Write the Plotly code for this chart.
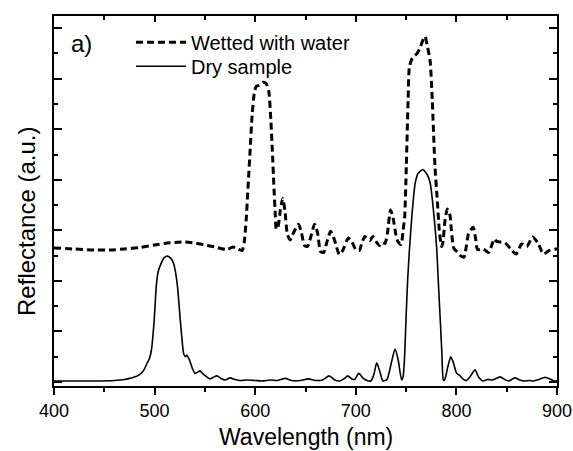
import plotly.graph_objects as go

# Dry sample (solid line)
dry_x = [400, 420, 440, 460, 470, 477, 483, 487, 490, 492.5, 495, 497, 498.5, 499.6, 500.6, 501.6,
         503.5, 506.6, 509.5, 512.9, 516, 518.8, 521, 522.8, 524.2, 525.5, 527, 528.8, 530.5, 532,
         533.5, 535.3, 537.5, 540.2, 542.5, 545.3, 548, 551.9, 555, 558, 562, 566, 570, 575, 580,
         585, 592, 600, 607, 615, 622, 630, 636, 645, 653, 660, 667, 673.5, 679, 684, 688, 692, 696,
         699, 703, 707, 711, 715, 718, 720.8, 724, 727, 731, 735, 739, 742, 745.5, 747, 748.5, 750,
         751.5, 753.3, 755.7, 759, 762, 766.5, 771, 774, 777.8, 780.5, 782, 783.8, 785.5, 787, 788,
         789.5, 791.5, 794.4, 797, 800, 803.6, 807, 810, 813.5, 818.5, 822, 826.5, 831, 836, 843.5,
         848, 852, 858, 863, 867, 872, 877, 882, 888, 893, 897, 900]
dry_y = [0.02, 0.02, 0.02, 0.03, 0.05, 0.08, 0.12, 0.18, 0.26, 0.37, 0.47, 0.65, 0.95, 1.23, 1.55, 1.88,
         2.18, 2.35, 2.46, 2.49, 2.45, 2.35, 2.15, 1.88, 1.55, 1.23, 0.9, 0.57, 0.5, 0.53,
         0.48, 0.4, 0.27, 0.17, 0.19, 0.22, 0.16, 0.1, 0.06, 0.09, 0.12, 0.07, 0.04, 0.08, 0.05,
         0.03, 0.04, 0.03, 0.02, 0.04, 0.03, 0.07, 0.03, 0.03, 0.06, 0.03, 0.04, 0.12, 0.04, 0.02, 0.06, 0.12, 0.06,
         0.05, 0.17, 0.08, 0.03, 0.02, 0.15, 0.38, 0.2, 0.02, 0.05, 0.35, 0.65, 0.45, 0.04, 0.1, 0.5, 1.29,
         2.0, 2.61, 3.27, 3.93, 4.13, 4.2, 4.1, 3.93, 3.27, 2.61, 2.0, 1.29, 0.6, 0.04, 0.03,
         0.12, 0.3, 0.5, 0.38, 0.18, 0.12, 0.05, 0.03, 0.1, 0.24, 0.1, 0.02, 0.05, 0.04, 0.1,
         0.05, 0.02, 0.08, 0.04, 0.02, 0.03, 0.02, 0.05, 0.09, 0.06, 0.02, 0.03]

# Wetted with water (dashed line)
wet_x = [400, 420, 440, 455, 470, 485, 500, 510, 520, 530, 540, 550, 560, 566, 572, 578, 582, 587,
         589, 591, 593, 595, 597, 599, 601, 604, 608, 611, 613.5, 615.5, 617, 618.5, 620, 621,
         622.5, 625, 627.3, 629.5, 632, 634.8, 638, 643, 646, 649, 652, 655, 659, 662, 665, 668,
         671, 675, 679, 683.6, 687, 692.6, 696, 700, 703.5, 706, 709, 714, 717, 720, 723.5, 726,
         729, 731.5, 734.5, 737, 740, 742, 745, 747, 748.6, 750.2, 752, 753.3, 756, 758, 761, 764,
         767.5, 769, 771, 773.8, 776, 778.7, 781, 783, 785.3, 786.5, 788.7, 791, 793.6, 795, 797.5,
         801, 804, 807.5, 810, 812, 816.6, 819, 821, 826.8, 832, 837.7, 840, 843, 848, 854, 859.4,
         864.8, 870, 875.8, 881, 886.6, 892, 899.3, 900]
wet_y = [2.65, 2.63, 2.61, 2.61, 2.63, 2.66, 2.71, 2.74, 2.76, 2.77, 2.75, 2.71, 2.67, 2.64, 2.62, 2.67, 2.64, 2.6,
         2.75, 3.2, 3.9, 4.6, 5.3, 5.7, 5.85, 5.87, 5.93, 5.9, 5.75, 5.2, 4.6, 3.9, 3.3, 3.02,
         3.05, 3.4, 3.63, 3.4, 2.92, 2.81, 2.95, 3.12, 2.95, 2.7, 2.68, 2.85, 3.12, 2.95, 2.58, 2.56,
         2.75, 2.98, 2.8, 2.52, 2.6, 2.85, 2.78, 2.62, 2.6, 2.75, 2.88, 2.8, 2.88, 2.78, 2.7, 2.76,
         2.74, 2.95, 3.4, 3.25, 2.9, 2.77, 2.72, 3.0, 3.27, 4.26, 5.58, 6.24, 6.4, 6.45, 6.5, 6.62,
         6.8, 6.83, 6.65, 6.37, 5.58, 4.26, 3.6, 3.0, 2.68, 2.75, 3.2, 3.42, 3.3, 3.0, 2.64,
         2.57, 2.5, 2.47, 2.7, 2.93, 3.06, 2.85, 2.62, 2.63, 2.56, 2.83, 2.78, 2.77, 2.76, 2.63, 2.53,
         2.73, 2.68, 2.87, 2.75, 2.53, 2.6, 2.63, 2.63]

x_tickvals = [400, 500, 600, 700, 800, 900]
x_ticktext = ["400", "500", "600", "700", "800", "900"]

FONT = "Liberation Sans, Arial, Helvetica, sans-serif"

fig = go.Figure()
fig.add_trace(go.Scatter(x=wet_x, y=wet_y, mode="lines", name="Wetted with water", legend="legend",
                         line=dict(color="black", width=3, dash="7px,4px", shape="spline", smoothing=0.6)))
fig.add_trace(go.Scatter(x=dry_x, y=dry_y, mode="lines", name="Dry sample", legend="legend2",
                         line=dict(color="black", width=1.6, shape="spline", smoothing=0.6)))
# invisible trace on the top axis so it is drawn
fig.add_trace(go.Scatter(x=dry_x, y=dry_y, xaxis="x2", mode="lines", opacity=0,
                         showlegend=False, hoverinfo="skip", line=dict(width=0)))

leg_common = dict(xanchor="left", yanchor="middle", bgcolor="rgba(0,0,0,0)",
                  font=dict(size=20, family=FONT), itemwidth=50)

fig.update_layout(
    width=573, height=451,
    margin=dict(l=54, r=16, t=16, b=65, autoexpand=False),
    paper_bgcolor="white", plot_bgcolor="white",
    font=dict(family=FONT, color="black", size=18),
    showlegend=True,
    legend=dict(x=0.153, y=0.929, **leg_common),
    legend2=dict(x=0.153, y=0.864, **leg_common),
    xaxis=dict(range=[400, 900], tickvals=x_tickvals, ticktext=x_ticktext, automargin=False,
               ticks="outside", ticklen=7, tickwidth=1.5, tickcolor="black",
               minor=dict(dtick=50, tick0=400, ticks="outside", ticklen=4, tickwidth=1.5, tickcolor="black"),
               showline=True, linecolor="black", linewidth=2, mirror=True,
               showgrid=False, zeroline=False, tickfont=dict(size=18)),
    xaxis2=dict(range=[400, 900], matches="x", overlaying="x", side="top", anchor="y",
                tickvals=x_tickvals, showticklabels=False, automargin=False,
                ticks="inside", ticklen=6, tickwidth=1.5, tickcolor="black",
                minor=dict(dtick=50, tick0=400, ticks="inside", ticklen=4, tickwidth=1.5, tickcolor="black"),
                showline=False, showgrid=False, zeroline=False),
    yaxis=dict(range=[-0.08, 7.24], dtick=1, tick0=0, showticklabels=False, automargin=False,
               ticks="inside", ticklen=8, tickwidth=1.5, tickcolor="black",
               minor=dict(dtick=0.5, tick0=0, ticks="inside", ticklen=4, tickwidth=1.5, tickcolor="black"),
               showline=True, linecolor="black", linewidth=2, mirror="ticks",
               showgrid=False, zeroline=False),
    annotations=[
        dict(text="Wavelength (nm)", xref="paper", yref="paper", x=0.5, y=-0.139,
             xanchor="center", yanchor="middle", showarrow=False, font=dict(size=23, family=FONT)),
        dict(text="Reflectance (a.u.)", xref="paper", yref="paper", x=-0.0537, y=0.446,
             xanchor="center", yanchor="middle", textangle=-90, showarrow=False,
             font=dict(size=24, family=FONT)),
        dict(text="a)", xref="paper", yref="paper", x=0.0537, y=0.927,
             xanchor="center", yanchor="middle", showarrow=False, font=dict(size=24, family=FONT)),
    ],
)

fig.write_html("out.html", config={"displayModeBar": False},
               post_script="document.body.style.margin='0';document.body.style.overflow='hidden';")
